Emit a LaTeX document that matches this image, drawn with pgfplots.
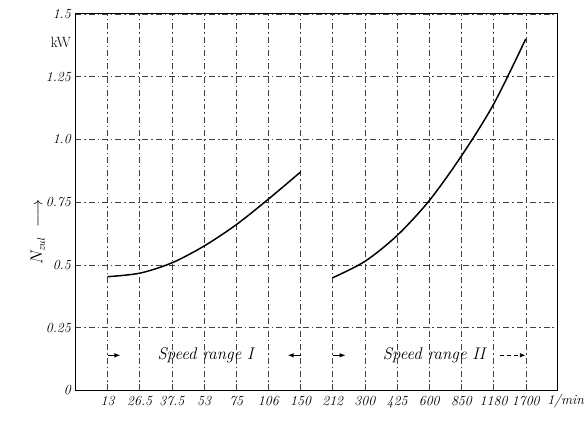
\documentclass[border=0pt]{standalone}
\usepackage{pgfplots}
\pgfplotsset{compat=1.18}
\usetikzlibrary{arrows.meta}
\begin{document}
\begin{tikzpicture}[x=1pt,y=1pt]
\begin{axis}[
  scale only axis,
  width=487pt, height=380pt,
  xmin=-1, xmax=14, ymin=0, ymax=1.5,
  xtick={0,1,2,3,4,5,6,7,8,9,10,11,12,13},
  xticklabels={13,26.5,37.5,53,75,106,150,212,300,425,600,850,1180,1700},
  ytick={0,0.25,0.5,0.75,1.0,1.25,1.5},
  yticklabels={0,0.25,0.5,0.75,1.0,1.25,1.5},
  major tick length=0pt,
  tick label style={font=\fontsize{14}{16}\selectfont\itshape},
  x tick label style={yshift=-2pt},
  y tick label style={xshift=-1pt},
  grid=major,
  major grid style={black!75, line width=0.5pt, dash pattern=on 6pt off 3pt on 1.5pt off 3pt},
  axis line style={line width=1pt},
  clip=false,
]
\addplot[black, line width=1.5pt, smooth] coordinates {
  (0,0.453) (1,0.467) (2,0.508) (3,0.575) (4,0.66) (5,0.762) (6,0.87)
};
\addplot[black, line width=1.5pt, smooth] coordinates {
  (7,0.449) (8,0.514) (9,0.617) (10,0.756) (11,0.934) (12,1.14) (13,1.40)
};
\node[font=\fontsize{17}{19}\selectfont\itshape] at (axis cs:3.05,0.14) {Speed range I};
\node[font=\fontsize{17}{19}\selectfont\itshape] at (axis cs:10.15,0.14) {Speed range II};
\draw[-{Latex[length=6pt]}, line width=0.9pt] (axis cs:0,0.14) -- (axis cs:0.4,0.14);
\draw[-{Latex[length=6pt]}, line width=0.9pt] (axis cs:6,0.14) -- (axis cs:5.6,0.14);
\draw[-{Latex[length=6pt]}, line width=0.9pt] (axis cs:7,0.14) -- (axis cs:7.4,0.14);
\draw[-{Latex[length=6pt]}, line width=0.9pt, dash pattern=on 4pt off 3pt] (axis cs:12.2,0.14) -- (axis cs:13,0.14);
\node[anchor=east, font=\fontsize{15}{17}\selectfont, xshift=-1pt] at (rel axis cs:0,0.925) {kW};
\node[rotate=90, font=\fontsize{16}{18}\selectfont] at (rel axis cs:-0.078,0.42) {$N_{\mathit{zul}}\ \longrightarrow$};
\node[anchor=north west, font=\fontsize{14}{16}\selectfont\itshape, yshift=-2pt, inner sep=2pt] at (axis cs:13.6,0) {1/min};
\path (rel axis cs:-0.1561,-0.0947) rectangle (rel axis cs:1.0472,1.0368);
\end{axis}
\end{tikzpicture}
\end{document}
